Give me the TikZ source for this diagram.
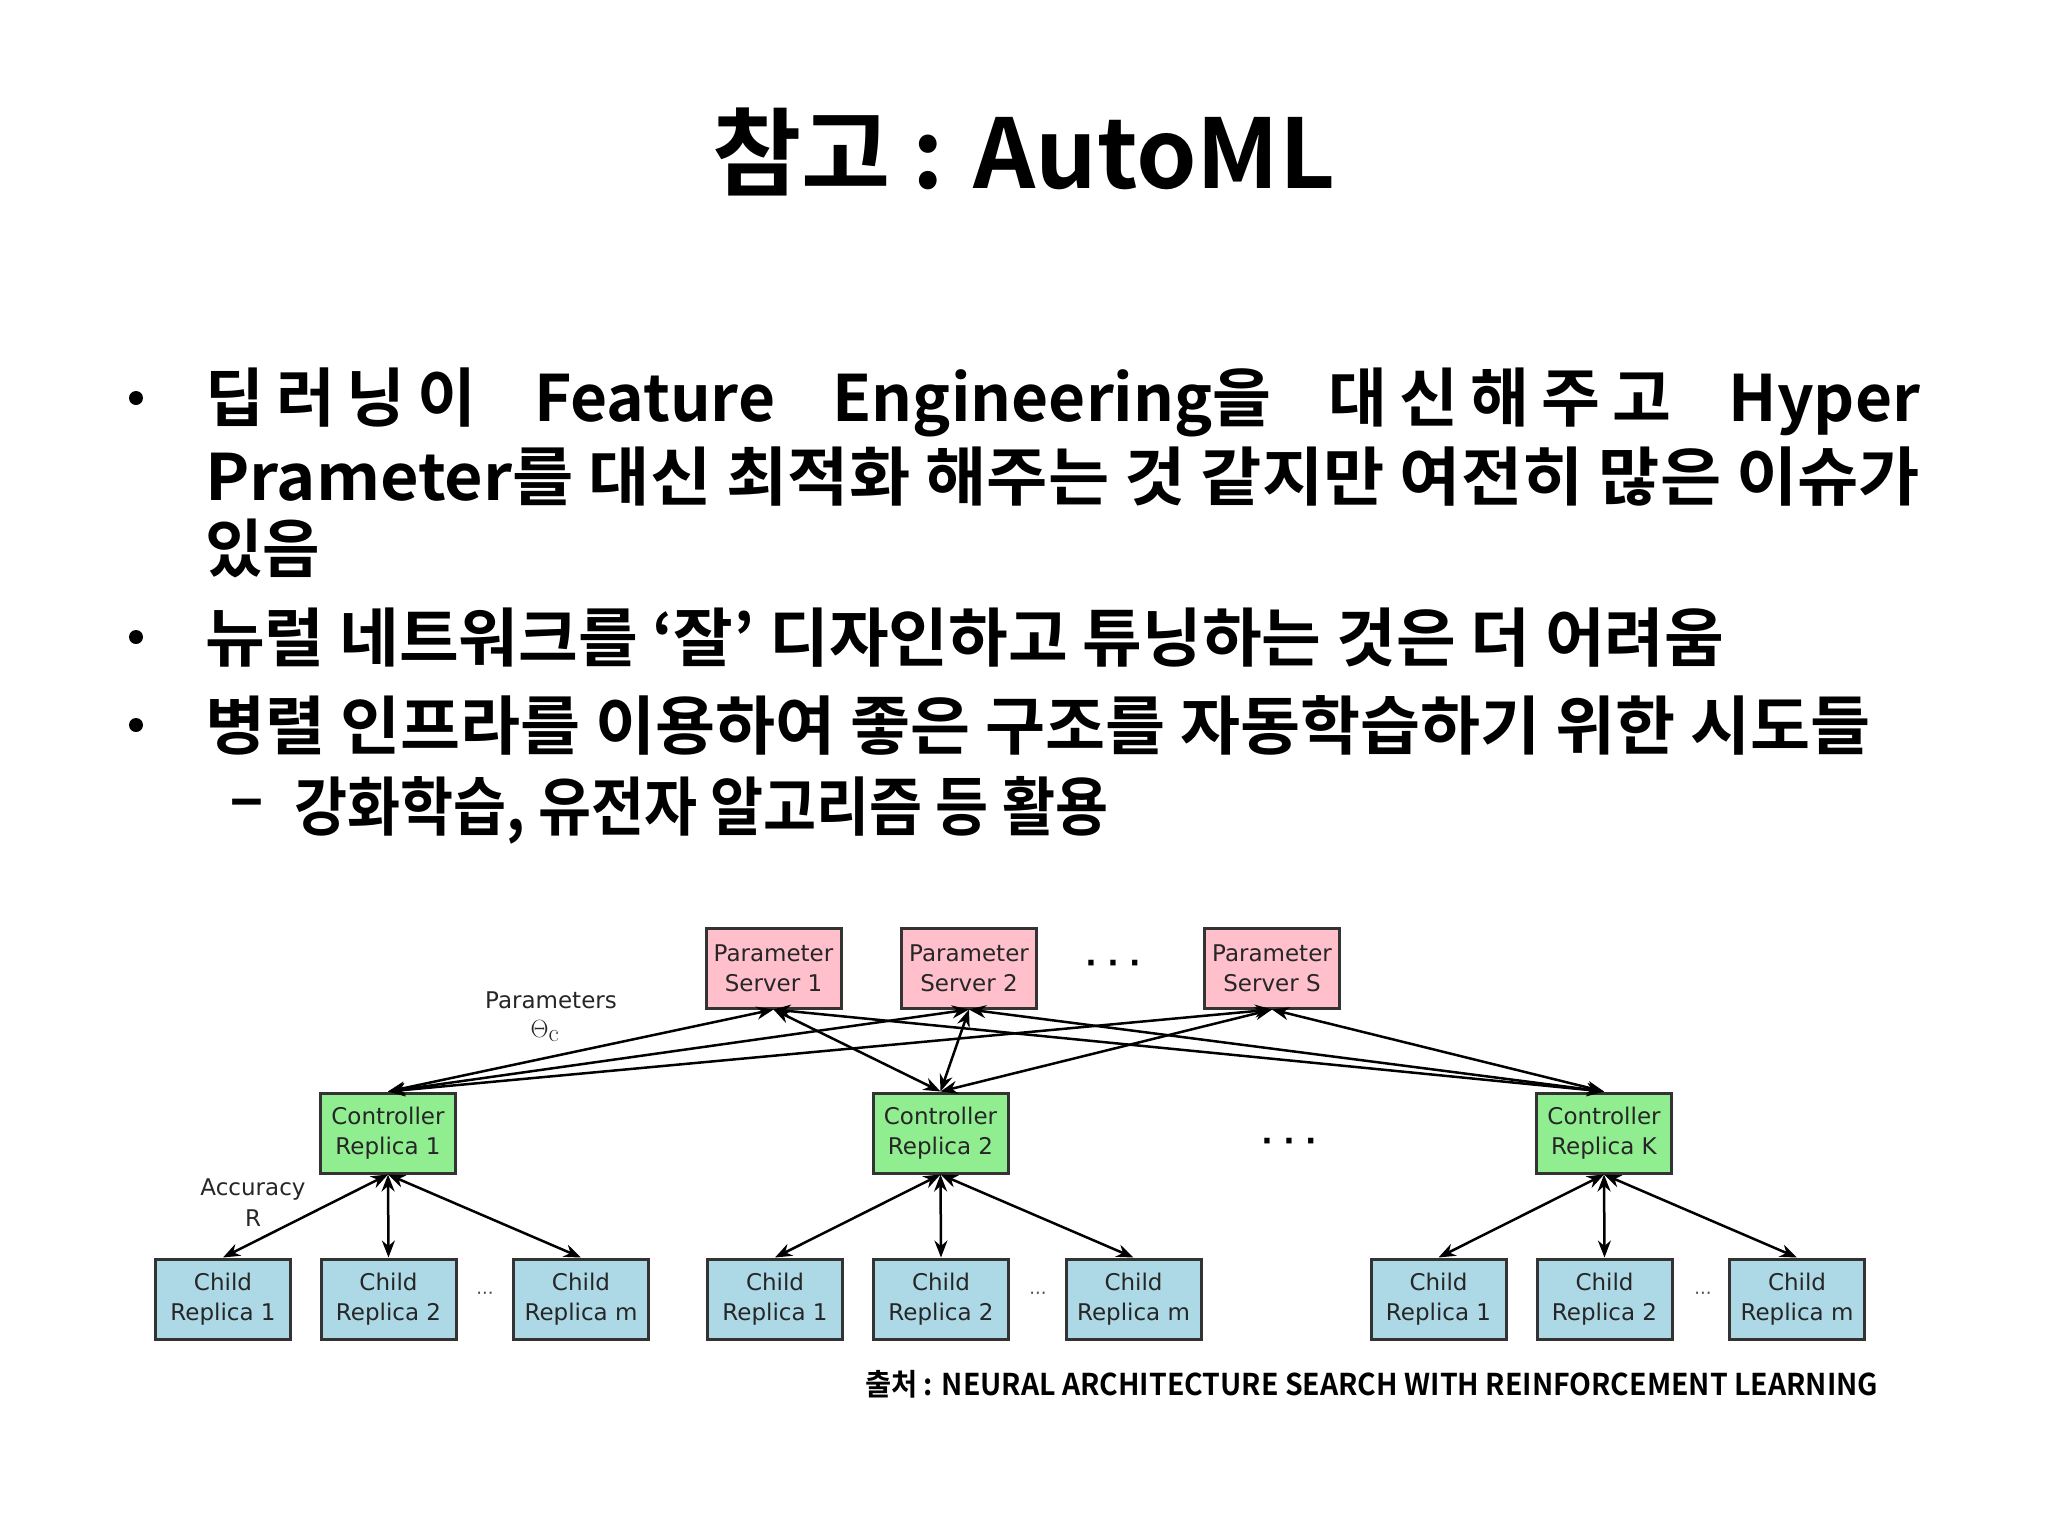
\documentclass[tikz,border=0pt]{standalone}
\usepackage{fontspec}
\usepackage{graphicx}
\usetikzlibrary{arrows.meta}
\newfontfamily\kr{Noto Sans CJK KR}[BoldFont={Noto Sans CJK KR Bold}]
\newfontfamily\dv{DejaVu Sans}
\definecolor{pspink}{HTML}{FFC0CB}
\definecolor{crgreen}{HTML}{90EE90}
\definecolor{chblue}{HTML}{ADD8E6}
\newcommand{\ls}{\hspace{12pt}}
\tikzset{
  box/.style={draw=black!80, line width=3pt, minimum width=135pt, minimum height=80pt,
    inner sep=0pt, align=center, text=black!85, font=\dv\fontsize{23}{30}\selectfont},
  psbox/.style={box, fill=pspink},
  crbox/.style={box, fill=crgreen},
  chbox/.style={box, fill=chblue},
  link/.style={line width=2.5pt, {Stealth[length=17pt,width=13pt]}-{Stealth[length=17pt,width=13pt]}},
  lbl/.style={inner sep=0pt, text=black!85, font=\dv\fontsize{23}{30}\selectfont},
  dots/.style={inner sep=0pt, font=\dv\bfseries\fontsize{30}{30}\selectfont},
  sdots/.style={inner sep=0pt, text=black!70, font=\dv\fontsize{18}{18}\selectfont},
  bl/.style={inner sep=0pt, anchor=west, font=\kr\bfseries\fontsize{64}{70}\selectfont},
  bdot/.style={circle, fill=black, inner sep=0pt, minimum size=14pt},
}
\begin{document}
\begin{tikzpicture}[x=1pt,y=-1pt]
\useasboundingbox (0,0) rectangle (2048,1536);
% title
\node[inner sep=0pt, font=\kr\bfseries\fontsize{96}{100}\selectfont] (title) at (1024,152)
  {\resizebox{623pt}{\height}{참고 : AutoML}};
% bullets
\node[bdot] (b1) at (136,398) {};
\node[bl] (l1) at (205,402) {\makebox[1715pt][s]{딥\ls 러\ls 닝\ls 이 Feature Engineering을 대\ls 신\ls 해\ls 주\ls 고 Hyper}};
\node[bl] (l2) at (205,477) {\resizebox{1715pt}{\height}{Prameter를 대신 최적화 해주는 것 같지만 여전히 많은 이슈가}};
\node[bl] (l3) at (205,548) {\resizebox{115pt}{\height}{있음}};
\node[bdot] (b2) at (136,637) {};
\node[bl] (l4) at (205,638) {\resizebox{1519pt}{\height}{뉴럴 네트워크를 ‘잘’ 디자인하고 튜닝하는 것은 더 어려움}};
\node[bdot] (b3) at (136,725) {};
\node[bl] (l5) at (205,725) {\resizebox{1665pt}{\height}{병렬 인프라를 이용하여 좋은 구조를 자동학습하기 위한 시도들}};
\node[bl] (dash) at (229,810) {–};
\node[bl] (l6) at (294,810) {\resizebox{814pt}{\height}{강화학습, 유전자 알고리즘 등 활용}};
% parameter servers
\node[psbox] (p1) at (773.5,968) {Parameter\\Server 1};
\node[psbox] (p2) at (969,968) {Parameter\\Server 2};
\node[psbox] (ps) at (1272,968) {Parameter\\Server S};
\node[dots] (pdots) at (1113,967) {· · ·};
% controllers
\node[crbox] (c1) at (388,1133) {Controller\\Replica 1};
\node[crbox] (c2) at (940.5,1133) {Controller\\Replica 2};
\node[crbox] (ck) at (1604,1133) {Controller\\Replica K};
\node[dots] (cdots) at (1289,1145) {· · ·};
% children
\node[chbox] (a1) at (223,1299) {Child\\Replica 1};
\node[chbox] (a2) at (388.5,1299) {Child\\Replica 2};
\node[chbox] (am) at (581,1299) {Child\\Replica m};
\node[chbox] (b1c) at (775,1299) {Child\\Replica 1};
\node[chbox] (b2c) at (941,1299) {Child\\Replica 2};
\node[chbox] (bmc) at (1133.5,1299) {Child\\Replica m};
\node[chbox] (k1) at (1438.5,1299) {Child\\Replica 1};
\node[chbox] (k2) at (1604.5,1299) {Child\\Replica 2};
\node[chbox] (km) at (1797,1299) {Child\\Replica m};
\node[sdots] (ad) at (485,1296) {···};
\node[sdots] (bd) at (1038,1296) {···};
\node[sdots] (kd) at (1703,1296) {···};
% labels
\node[lbl] (plab) at (551,1000) {Parameters};
\node[inner sep=0pt, text=black!85, font=\fontsize{36}{36}\selectfont] (theta) at (545,1031) {$\Theta_{\mathrm{c}}$};
\node[lbl] (alab) at (253,1189) {Accuracy};
\node[lbl] (rlab) at (253,1218) {R};
% controller <-> servers
\foreach \c in {c1,c2,ck}{
  \foreach \p in {p1,p2,ps}{
    \draw[link] (\c.north) -- (\p.south);
  }
}
% controller <-> children
\draw[link] (c1.south) -- (a1.north);
\draw[link] (c1.south) -- (a2.north);
\draw[link] (c1.south) -- (am.north);
\draw[link] (c2.south) -- (b1c.north);
\draw[link] (c2.south) -- (b2c.north);
\draw[link] (c2.south) -- (bmc.north);
\draw[link] (ck.south) -- (k1.north);
\draw[link] (ck.south) -- (k2.north);
\draw[link] (ck.south) -- (km.north);
% source
\node[inner sep=0pt, anchor=west, font=\kr\bfseries\fontsize{30}{30}\selectfont] (src) at (865,1384)
  {\resizebox{1013pt}{\height}{출처 : NEURAL ARCHITECTURE SEARCH WITH REINFORCEMENT LEARNING}};
\end{tikzpicture}
\end{document}
